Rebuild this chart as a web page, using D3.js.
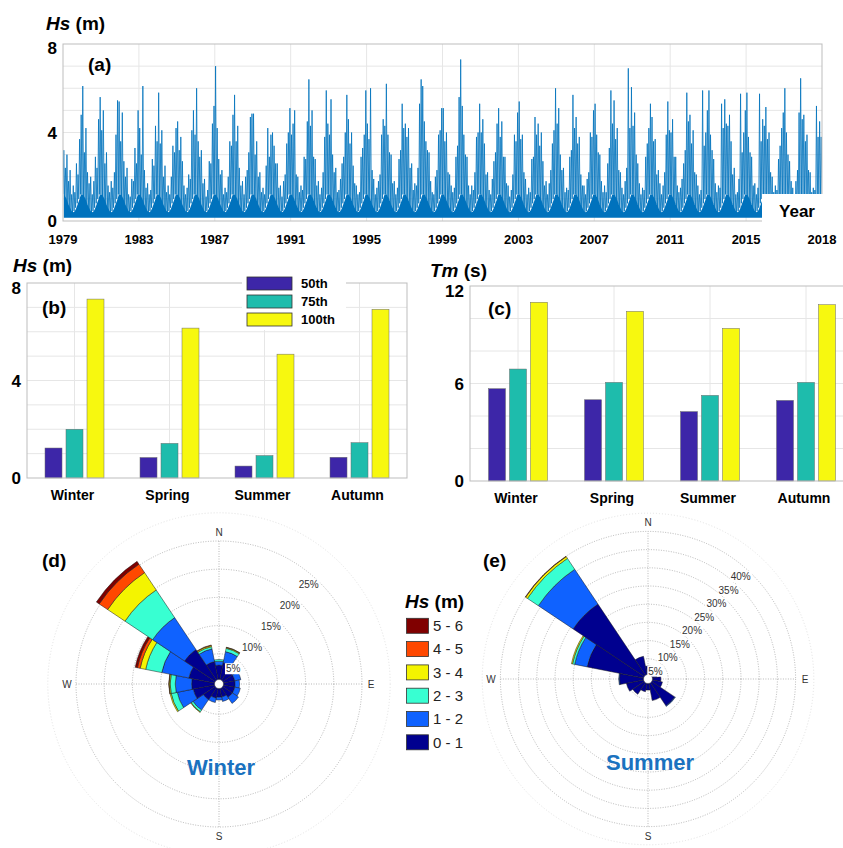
<!DOCTYPE html>
<html>
<head>
<meta charset="utf-8">
<script src="https://cdn.jsdelivr.net/npm/d3@7/dist/d3.min.js"></script>
<style>
body { margin: 0; background: #fff; }
text { font-family: Arial, "Liberation Sans", sans-serif; }
</style>
</head>
<body>
<script>
// ---------- data ----------
// (a) monthly maximum Hs (m), one row per year 1979..2018, Jan..Dec
var startYear = 1979;
var hsMonthlyMax = [
    [3.2, 2.4, 3.0, 1.8, 2.3, 1.2, 1.6, 1.3, 2.6, 2.1, 3.7, 4.8],
    [6.1, 3.1, 4.2, 2.2, 1.7, 2.0, 1.2, 1.8, 2.9, 2.4, 4.6, 5.6],
    [4.1, 5.0, 2.6, 3.1, 1.6, 1.3, 1.8, 1.5, 2.2, 3.9, 5.45, 5.4],
    [3.6, 4.9, 2.7, 2.0, 2.4, 1.2, 1.1, 1.9, 1.8, 3.3, 2.6, 5.0],
    [4.2, 3.0, 6.1, 2.3, 1.5, 1.7, 1.2, 1.4, 2.8, 2.5, 4.3, 3.6],
    [5.8, 3.5, 4.1, 2.0, 2.5, 1.3, 1.6, 1.2, 2.0, 3.4, 3.1, 4.2],
    [4.5, 3.2, 3.8, 2.7, 1.6, 1.2, 1.5, 2.1, 1.9, 4.1, 5.0, 3.9],
    [6.0, 3.6, 2.9, 3.2, 1.7, 1.9, 1.1, 1.4, 2.7, 2.6, 4.4, 5.2],
    [7.0, 4.2, 2.8, 2.1, 2.3, 1.2, 1.5, 1.3, 2.0, 3.6, 3.4, 4.8],
    [5.7, 3.6, 4.3, 2.4, 1.6, 1.8, 1.2, 2.0, 2.3, 3.1, 4.7, 4.85],
    [4.85, 3.0, 3.6, 2.0, 2.2, 1.3, 1.5, 1.2, 2.5, 4.2, 2.9, 3.9],
    [4.0, 3.4, 2.6, 2.6, 1.5, 1.6, 1.1, 1.8, 2.1, 3.5, 4.0, 5.1],
    [3.9, 4.4, 5.0, 2.1, 2.0, 1.3, 1.6, 1.4, 2.9, 2.8, 4.5, 6.4],
    [4.3, 5.0, 2.9, 2.8, 1.6, 1.8, 1.2, 1.5, 2.2, 3.8, 5.9, 4.4],
    [3.9, 5.5, 3.0, 2.2, 2.4, 1.3, 1.4, 1.9, 2.6, 2.9, 4.0, 5.7],
    [4.6, 3.5, 4.0, 2.5, 1.7, 1.6, 1.2, 1.3, 2.9, 3.3, 3.9, 5.9],
    [4.4, 3.7, 6.0, 2.3, 1.9, 1.2, 1.5, 1.8, 2.1, 3.9, 4.6, 4.3],
    [6.2, 3.9, 3.1, 3.0, 1.7, 1.8, 1.2, 1.5, 2.8, 3.2, 5.3, 4.2],
    [4.4, 3.8, 4.2, 2.4, 2.6, 1.4, 1.7, 1.6, 2.4, 5.3, 6.4, 6.1],
    [4.5, 3.6, 3.2, 3.1, 1.8, 1.3, 1.2, 2.0, 2.3, 3.9, 4.1, 5.1],
    [5.1, 3.6, 4.0, 2.2, 2.1, 1.6, 1.3, 1.5, 2.9, 3.4, 5.6, 7.3],
    [5.2, 3.9, 3.0, 2.9, 1.6, 1.2, 1.6, 1.4, 2.2, 3.8, 4.0, 5.3],
    [4.0, 4.6, 3.5, 2.1, 2.2, 1.4, 1.2, 1.9, 2.7, 3.1, 4.4, 5.1],
    [3.8, 4.5, 2.9, 2.9, 1.7, 1.6, 1.1, 1.4, 2.1, 3.9, 3.6, 4.9],
    [5.4, 3.7, 3.9, 2.2, 1.9, 1.2, 1.5, 1.3, 2.8, 2.9, 4.7, 3.9],
    [4.4, 3.4, 4.0, 2.7, 1.6, 1.8, 1.2, 1.7, 2.3, 3.5, 4.1, 6.0],
    [4.4, 5.1, 3.0, 2.3, 2.4, 1.3, 1.5, 1.4, 2.9, 3.2, 5.7, 4.2],
    [4.7, 3.5, 3.8, 2.1, 1.6, 1.6, 1.2, 1.9, 2.2, 4.0, 3.8, 5.0],
    [5.3, 3.9, 3.1, 3.0, 1.8, 1.3, 1.6, 1.3, 2.6, 3.3, 5.9, 4.4],
    [5.45, 3.7, 4.2, 2.3, 2.2, 1.5, 1.2, 1.8, 2.4, 6.9, 4.2, 6.05],
    [4.3, 4.9, 3.0, 2.6, 1.7, 1.2, 1.5, 1.4, 2.9, 3.5, 4.2, 5.3],
    [4.7, 3.6, 3.7, 2.1, 2.3, 1.7, 1.2, 1.6, 2.2, 3.9, 5.4, 4.1],
    [4.0, 4.6, 2.9, 2.9, 1.6, 1.3, 1.5, 1.9, 2.6, 3.2, 5.8, 4.5],
    [4.8, 3.5, 4.1, 2.2, 2.1, 1.6, 1.2, 1.4, 5.9, 3.4, 4.0, 5.0],
    [5.9, 3.9, 3.2, 2.8, 1.7, 1.3, 1.6, 1.5, 5.3, 4.2, 5.5, 4.4],
    [4.3, 4.8, 3.6, 2.1, 2.4, 1.2, 1.3, 1.9, 5.75, 3.1, 4.0, 5.0],
    [5.8, 3.8, 3.1, 2.9, 1.6, 1.7, 1.2, 1.5, 5.75, 3.6, 4.6, 4.3],
    [5.15, 3.7, 4.0, 2.2, 2.0, 1.3, 1.6, 1.4, 2.8, 3.4, 4.2, 4.9],
    [6.0, 4.0, 3.0, 2.7, 1.8, 1.5, 1.2, 1.8, 2.3, 4.9, 6.45, 4.6],
    [4.8, 3.6, 3.9, 2.3, 2.2, 1.3, 1.5, 1.4, 5.2, 3.8, 4.5, 3.8]
];
// typical level of the dense band between storms, Jan..Dec
var hsMonthlyTypical = [1.2, 1.1, 0.95, 0.75, 0.6, 0.45, 0.4, 0.45, 0.6, 0.8, 1.0, 1.2];
var hsFloor = 0.15;
var yearTicks = [1979, 1983, 1987, 1991, 1995, 1999, 2003, 2007, 2011, 2015, 2019];
var yearTickLabels = ["1979", "1983", "1987", "1991", "1995", "1999", "2003", "2007", "2011", "2015", "2018"];

// (b), (c) seasonal percentiles
var seasons = ["Winter", "Spring", "Summer", "Autumn"];
var pctNames = ["50th", "75th", "100th"];
var hs50 = [1.23, 0.84, 0.49, 0.85];
var hs75 = [2.0, 1.42, 0.92, 1.45];
var hs100 = [7.34, 6.15, 5.08, 6.92];
var tm50 = [5.68, 5.0, 4.27, 4.96];
var tm75 = [6.89, 6.07, 5.27, 6.07];
var tm100 = [11.0, 10.44, 9.39, 10.85];

// (d), (e) wave roses: % per direction (N clockwise) per Hs class 0-1 .. 5-6
var directions = ["N", "NNE", "NE", "ENE", "E", "ESE", "SE", "SSE", "S", "SSW", "SW", "WSW", "W", "WNW", "NW", "NNW"];
var hsClasses = ["0 - 1", "1 - 2", "2 - 3", "3 - 4", "4 - 5", "5 - 6"];
var winterRose = [
    [3.0, 0.7, 0.3, 0, 0, 0],
    [3.5, 2.0, 0.6, 0.15, 0.05, 0],
    [2.5, 1.0, 0, 0, 0, 0],
    [2.5, 1.1, 0, 0, 0, 0],
    [2.5, 0.8, 0, 0, 0, 0],
    [2.5, 1.0, 0, 0, 0, 0],
    [2.5, 1.3, 0, 0, 0, 0],
    [2.0, 0.8, 0, 0, 0, 0],
    [2.0, 0.5, 0, 0, 0, 0],
    [2.2, 0.8, 0, 0, 0, 0],
    [3.0, 2.2, 0.4, 0.1, 0, 0],
    [4.3, 2.9, 1.1, 0.2, 0, 0],
    [4.5, 2.9, 0.9, 0.2, 0.05, 0],
    [5.1, 4.9, 2.9, 1.0, 0.5, 0.4],
    [7.0, 6.8, 5.9, 3.7, 1.8, 0.6],
    [3.7, 2.3, 0.4, 0.2, 0.1, 0]
];
var summerRose = [
    [3.0, 0, 0, 0, 0, 0],
    [2.0, 0, 0, 0, 0, 0],
    [1.5, 0, 0, 0, 0, 0],
    [2.0, 0, 0, 0, 0, 0],
    [3.0, 0, 0, 0, 0, 0],
    [3.5, 0, 0, 0, 0, 0],
    [8.3, 0.2, 0, 0, 0, 0],
    [5.5, 0, 0, 0, 0, 0],
    [2.5, 0, 0, 0, 0, 0],
    [3.0, 0, 0, 0, 0, 0],
    [4.5, 0, 0, 0, 0, 0],
    [5.5, 0, 0, 0, 0, 0],
    [7.3, 0.2, 0, 0, 0, 0],
    [16.5, 3.5, 0.6, 0.3, 0, 0],
    [24.2, 11.5, 3.6, 0.6, 0.1, 0],
    [5.8, 0, 0, 0, 0, 0]
];

// ---------- styles ----------
var lineBlue = "#0072BD";
var barColors = ["#3D26A8", "#1EBCAC", "#F7F80F"];
var roseColors = ["#00008F", "#0F62FF", "#38FFD2", "#F4F400", "#FF4800", "#800000"];
var frameColor = "#BDBDBD",
    gridColor = "#E6E6E6";

var svg = d3.select("body").append("svg")
    .attr("width", 843)
    .attr("height", 848);

function axisTitle(x, y, italicPart, rest, size) {
    var t = svg.append("text")
        .attr("x", x).attr("y", y)
        .attr("font-size", size)
        .attr("font-weight", "bold");
    t.append("tspan").attr("font-style", "italic").text(italicPart);
    t.append("tspan").text(rest);
}

function panelLabel(x, y, txt) {
    svg.append("text")
        .attr("x", x).attr("y", y)
        .attr("font-size", 19)
        .attr("font-weight", "bold")
        .text(txt);
}

// ---------- (a) time series ----------
var xA = d3.scaleLinear().domain([1979, 2019]).range([63, 822]);
var yA = d3.scaleLinear().domain([0, 8]).range([221, 44]);
var gA = svg.append("g");

gA.selectAll(".hgrid").data(d3.range(1, 8)).enter().append("line")
    .attr("x1", xA(1979)).attr("x2", xA(2019))
    .attr("y1", d => yA(d)).attr("y2", d => yA(d))
    .attr("stroke", gridColor).attr("stroke-width", 1);
gA.selectAll(".vgrid").data(yearTicks.slice(1, -1)).enter().append("line")
    .attr("x1", d => xA(d)).attr("x2", d => xA(d))
    .attr("y1", yA(0)).attr("y2", yA(8))
    .attr("stroke", gridColor).attr("stroke-width", 1);

svg.append("clipPath").attr("id", "clipA").append("rect")
    .attr("x", xA(1979)).attr("y", yA(8))
    .attr("width", xA(2019) - xA(1979)).attr("height", yA(0) - yA(8) + 2);

// zigzag: calm level at each month start, monthly maximum mid-month
var pts = [], band = [];
hsMonthlyMax.forEach(function(row, yi) {
    row.forEach(function(v, m) {
        var t = startYear + yi + m / 12;
        pts.push([t, hsMonthlyTypical[m]]);
        pts.push([t + 0.5 / 12, v]);
        band.push([t + 0.5 / 12, hsMonthlyTypical[m]]);
    });
});
pts.push([2019, hsMonthlyTypical[0]]);

gA.append("path")
    .datum(band)
    .attr("clip-path", "url(#clipA)")
    .attr("fill", lineBlue)
    .attr("d", d3.area().x(d => xA(d[0])).y0(yA(hsFloor)).y1(d => yA(d[1])).curve(d3.curveMonotoneX));

gA.append("path")
    .datum(pts)
    .attr("clip-path", "url(#clipA)")
    .attr("fill", "none")
    .attr("stroke", lineBlue)
    .attr("stroke-width", 0.8)
    .attr("d", d3.line().x(d => xA(d[0])).y(d => yA(d[1])));

gA.append("rect")
    .attr("x", xA(1979)).attr("y", yA(8))
    .attr("width", xA(2019) - xA(1979)).attr("height", yA(0) - yA(8))
    .attr("fill", "none").attr("stroke", frameColor);

gA.selectAll(".xtick").data(yearTicks).enter().append("text")
    .attr("x", d => xA(d)).attr("y", 244)
    .attr("text-anchor", "middle")
    .attr("font-size", 13).attr("font-weight", "bold")
    .text((d, i) => yearTickLabels[i]);
gA.selectAll(".ytick").data([0, 4, 8]).enter().append("text")
    .attr("x", 57).attr("y", d => yA(d) + (d === 8 ? 10 : 6))
    .attr("text-anchor", "end")
    .attr("font-size", 17).attr("font-weight", "bold")
    .text(d => d);

gA.append("rect").attr("x", 762).attr("y", 194).attr("width", 72).attr("height", 34).attr("fill", "#fff");
gA.append("text").attr("x", 797).attr("y", 217).attr("text-anchor", "middle")
    .attr("font-size", 17).attr("font-weight", "bold").text("Year");

axisTitle(46, 30, "Hs", " (m)", 19);
panelLabel(88, 71, "(a)");

// ---------- (b), (c) bar charts ----------
function barPanel(opts) {
    var g = svg.append("g");
    var x = d3.scaleLinear().domain([0.5, 4.5]).range([opts.left, opts.right]);
    var y = d3.scaleLinear().domain([0, opts.max]).range([opts.bottom, opts.top]);
    var inner = d3.scaleBand().domain(pctNames).range([-29.5, 29.5]).paddingInner(0.19);

    g.selectAll(".hgrid").data(d3.range(opts.gridStep, opts.max, opts.gridStep)).enter().append("line")
        .attr("x1", opts.left).attr("x2", opts.right)
        .attr("y1", d => y(d)).attr("y2", d => y(d))
        .attr("stroke", gridColor);
    g.selectAll(".vgrid").data(seasons).enter().append("line")
        .attr("x1", (d, i) => x(i + 1)).attr("x2", (d, i) => x(i + 1))
        .attr("y1", opts.bottom).attr("y2", opts.top)
        .attr("stroke", gridColor);

    opts.series.forEach(function(vals, si) {
        g.selectAll(".bar" + si).data(vals).enter().append("rect")
            .attr("x", (d, i) => x(i + 1) + inner(pctNames[si]))
            .attr("width", inner.bandwidth())
            .attr("y", d => y(d))
            .attr("height", d => y(0) - y(d))
            .attr("fill", barColors[si])
            .attr("stroke", "#6b6b6b").attr("stroke-width", 0.5);
    });

    g.append("rect")
        .attr("x", opts.left).attr("y", opts.top)
        .attr("width", opts.right - opts.left).attr("height", opts.bottom - opts.top)
        .attr("fill", "none").attr("stroke", frameColor);

    g.selectAll(".ytick").data(opts.labels).enter().append("text")
        .attr("x", opts.left - 6).attr("y", d => y(d) + (d === opts.max ? 11 : 6))
        .attr("text-anchor", "end")
        .attr("font-size", 17).attr("font-weight", "bold")
        .text(d => d);
    g.selectAll(".xlab").data(seasons).enter().append("text")
        .attr("x", (d, i) => x(i + 1) - 2).attr("y", opts.bottom + 22)
        .attr("text-anchor", "middle")
        .attr("font-size", 14).attr("font-weight", "bold")
        .text(d => d);
    return g;
}

barPanel({ left: 27, right: 407, top: 283, bottom: 478, max: 8, gridStep: 1,
    labels: [0, 4, 8], series: [hs50, hs75, hs100] });
axisTitle(13, 272, "Hs", " (m)", 19);
panelLabel(42, 314, "(b)");

// legend (b)
var leg = svg.append("g");
leg.append("rect").attr("x", 242).attr("y", 272).attr("width", 104).attr("height", 58).attr("fill", "#fff");
pctNames.forEach(function(n, i) {
    leg.append("rect")
        .attr("x", 247).attr("y", 277 + i * 18)
        .attr("width", 45).attr("height", 13)
        .attr("fill", barColors[i]).attr("stroke", "#333").attr("stroke-width", 0.8);
    leg.append("text")
        .attr("x", 301).attr("y", 288 + i * 18)
        .attr("font-size", 13).attr("font-weight", "bold")
        .text(n);
});

barPanel({ left: 470, right: 854, top: 286, bottom: 481, max: 12, gridStep: 2,
    labels: [0, 6, 12], series: [tm50, tm75, tm100] });
axisTitle(430, 277, "Tm", " (s)", 19);
panelLabel(488, 315, "(c)");

// ---------- (d), (e) wave roses ----------
function rose(opts) {
    var g = svg.append("g").attr("transform", "translate(" + opts.cx + "," + opts.cy + ")");
    var r = d3.scaleLinear().domain([0, opts.maxPct]).range([2, opts.maxR]);
    var rings = d3.range(opts.step, opts.maxPct + 0.1, opts.step);

    g.append("circle").attr("r", r(opts.maxPct + opts.step))
        .attr("fill", "none").attr("stroke", "#e2e2e2").attr("stroke-dasharray", "1,2");
    g.selectAll(".ring").data(rings).enter().append("circle")
        .attr("r", d => r(d))
        .attr("fill", "none").attr("stroke", "#9a9a9a")
        .attr("stroke-width", 0.7).attr("stroke-dasharray", "1,1.5");
    [[0, -1], [1, 0]].forEach(function(v) {
        g.append("line")
            .attr("x1", -v[0] * r(opts.maxPct)).attr("y1", -v[1] * r(opts.maxPct))
            .attr("x2", v[0] * r(opts.maxPct)).attr("y2", v[1] * r(opts.maxPct))
            .attr("stroke", "#9a9a9a").attr("stroke-width", 0.7).attr("stroke-dasharray", "1,1.5");
    });

    var arc = d3.arc();
    var half = Math.PI / 16;
    opts.data.forEach(function(row, di) {
        var a = di * Math.PI / 8;
        var cum = 0;
        row.forEach(function(v, ci) {
            if (v <= 0) return;
            g.append("path")
                .attr("d", arc({ innerRadius: r(cum), outerRadius: r(cum + v), startAngle: a - half, endAngle: a + half }))
                .attr("fill", roseColors[ci])
                .attr("stroke", "#1a1a1a").attr("stroke-width", 0.5);
            cum += v;
        });
    });
    g.append("circle").attr("r", 4.5).attr("fill", "#fff").attr("stroke", "#333").attr("stroke-width", 0.5);

    var ang = 42 * Math.PI / 180;
    rings.forEach(function(p) {
        var rr = r(p) - 9;
        var t = g.append("text")
            .attr("x", rr * Math.sin(ang)).attr("y", -rr * Math.cos(ang) + 4)
            .attr("text-anchor", "middle")
            .attr("font-size", 10).attr("fill", "#333")
            .text(p + "%");
        var b = t.node().getBBox();
        g.insert("rect", "text")
            .attr("x", b.x - 1).attr("y", b.y).attr("width", b.width + 2).attr("height", b.height)
            .attr("fill", "#fff");
    });

    var lr = opts.labelR;
    [["N", 0, -lr], ["E", lr, 0], ["S", 0, lr], ["W", -lr, 0]].forEach(function(d) {
        g.append("text").attr("x", d[1]).attr("y", d[2] + 3.5)
            .attr("text-anchor", "middle").attr("font-size", 10).attr("fill", "#333")
            .text(d[0]);
    });

    g.append("text").attr("x", 2).attr("y", 91)
        .attr("text-anchor", "middle")
        .attr("font-size", 22).attr("font-weight", "bold").attr("fill", "#1A72BF")
        .text(opts.title);
}

rose({ cx: 219, cy: 684, maxPct: 25, step: 5, maxR: 143, labelR: 152, data: winterRose, title: "Winter" });
rose({ cx: 648, cy: 679, maxPct: 40, step: 5, maxR: 147.6, labelR: 157, data: summerRose, title: "Summer" });
panelLabel(42, 567, "(d)");
panelLabel(483, 567, "(e)");

// rose legend
axisTitle(405, 608, "Hs", " (m)", 19);
hsClasses.slice().reverse().forEach(function(c, i) {
    var ci = hsClasses.length - 1 - i;
    svg.append("rect")
        .attr("x", 406.5).attr("y", 618.3 + i * 23.3)
        .attr("width", 22).attr("height", 15)
        .attr("fill", roseColors[ci]).attr("stroke", "#333").attr("stroke-width", 0.8);
    svg.append("text")
        .attr("x", 433).attr("y", 631 + i * 23.3)
        .attr("font-size", 15).attr("fill", "#222")
        .text(c);
});
</script>
</body>
</html>
